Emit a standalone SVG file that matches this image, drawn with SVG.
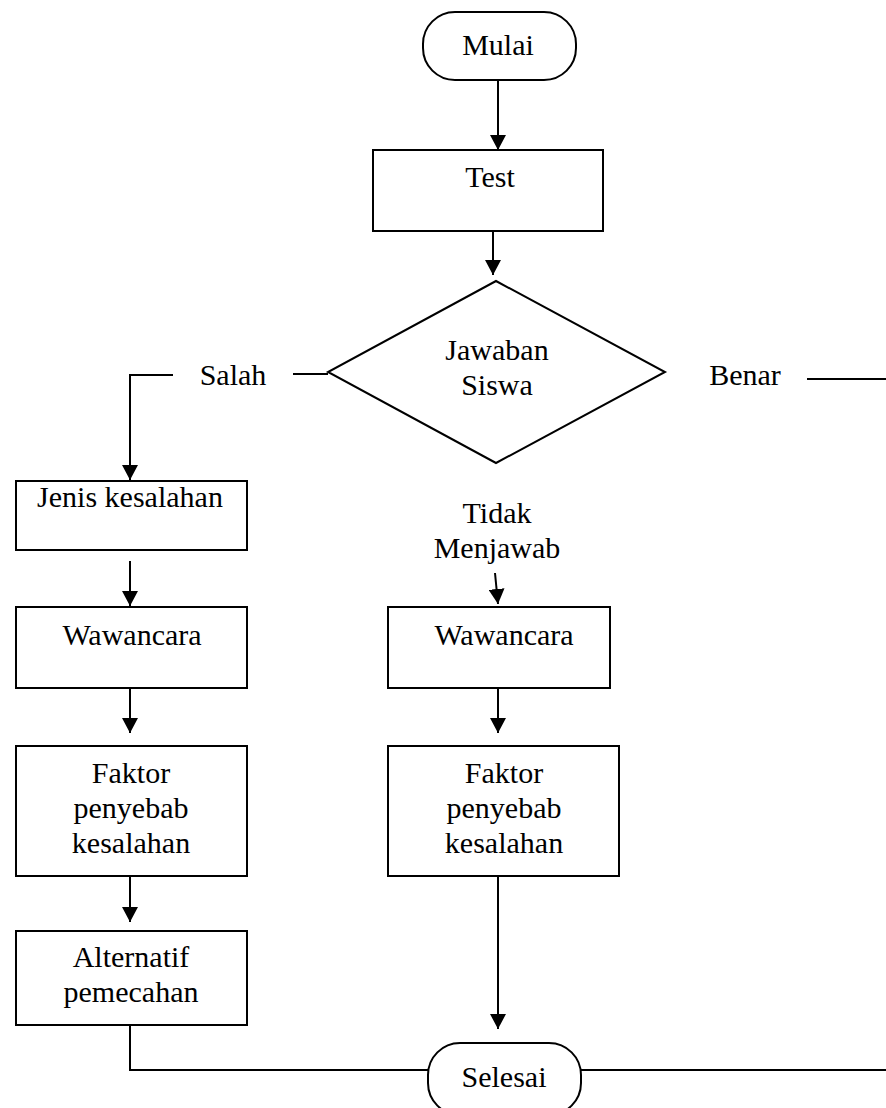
<svg xmlns="http://www.w3.org/2000/svg" width="886" height="1108" viewBox="0 0 886 1108">
<defs>
<marker id="ah" markerUnits="userSpaceOnUse" markerWidth="16" markerHeight="16" refX="15" refY="8" orient="auto">
<path d="M0,0 L15,8 L0,16 z" fill="#000"/>
</marker>
<style>
.s{fill:#fff;stroke:#000;stroke-width:2}
.c{fill:none;stroke:#000;stroke-width:2}
.a{fill:none;stroke:#000;stroke-width:2;marker-end:url(#ah)}
.t{font-family:'Liberation Serif','Times New Roman','DejaVu Serif',serif;font-size:30px;fill:#000;text-anchor:middle}
</style>
</defs>
<rect width="886" height="1108" fill="#fff"/>
<g id="connectors">
<path class="a" d="M498,80 L498,150"/>
<path class="a" d="M493,231 L493,275"/>
<path class="c" d="M328,374 L293,374"/>
<path class="a" d="M173,375 L130,375 L130,480"/>
<path class="c" d="M807,379 L886,379"/>
<path class="a" d="M130,561 L130,606"/>
<path class="a" d="M130,688 L130,733"/>
<path class="a" d="M130,876 L130,922"/>
<path class="a" d="M495,573 L498,604"/>
<path class="a" d="M498,688 L498,733"/>
<path class="a" d="M498,876 L498,1029"/>
<path class="c" d="M130,1025 L130,1070 L428,1070"/>
<path class="c" d="M581,1070 L886,1070"/>
</g>
<g class="t">
<g id="mulai">
<rect class="s" x="423" y="12" width="153" height="68" rx="32" ry="32"/>
<text x="498" y="55">Mulai</text>
</g>
<g id="test">
<rect class="s" x="373" y="150" width="230" height="81"/>
<text x="490" y="187">Test</text>
</g>
<g id="jawaban">
<polygon class="s" points="496,281 665,372 496,463 328,372"/>
<text x="497" y="360">Jawaban</text>
<text x="497" y="395">Siswa</text>
</g>
<g id="label-salah"><text x="233" y="385">Salah</text></g>
<g id="label-benar"><text x="745" y="385">Benar</text></g>
<g id="label-tidak">
<text x="497" y="523">Tidak</text>
<text x="497" y="558">Menjawab</text>
</g>
<g id="jenis">
<rect class="s" x="16" y="481" width="231" height="69"/>
<text x="130" y="507">Jenis kesalahan</text>
</g>
<g id="wawancara1">
<rect class="s" x="16" y="607" width="231" height="81"/>
<text x="132" y="645">Wawancara</text>
</g>
<g id="faktor1">
<rect class="s" x="16" y="746" width="231" height="130"/>
<text x="131" y="783">Faktor</text>
<text x="131" y="818">penyebab</text>
<text x="131" y="853">kesalahan</text>
</g>
<g id="alternatif">
<rect class="s" x="16" y="931" width="231" height="94"/>
<text x="131" y="967">Alternatif</text>
<text x="131" y="1002">pemecahan</text>
</g>
<g id="wawancara2">
<rect class="s" x="388" y="607" width="222" height="81"/>
<text x="504" y="645">Wawancara</text>
</g>
<g id="faktor2">
<rect class="s" x="388" y="746" width="231" height="130"/>
<text x="504" y="783">Faktor</text>
<text x="504" y="818">penyebab</text>
<text x="504" y="853">kesalahan</text>
</g>
<g id="selesai">
<rect class="s" x="428" y="1043" width="153" height="72" rx="32" ry="32"/>
<text x="504" y="1087">Selesai</text>
</g>
</g>
</svg>
